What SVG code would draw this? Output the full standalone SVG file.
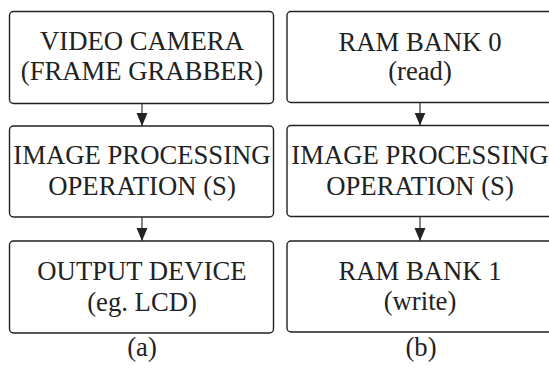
<svg xmlns="http://www.w3.org/2000/svg" width="549" height="370" viewBox="0 0 549 370">
<style>
.box{fill:#fff;stroke:#222;stroke-width:1.4}
.t{font-family:"Liberation Serif","DejaVu Serif",serif;font-size:26.7px;fill:#222;text-anchor:middle}
.conn{stroke:#333;stroke-width:1.2;fill:none}
</style>
<defs>
<marker id="ah" markerUnits="userSpaceOnUse" markerWidth="14" markerHeight="12" refX="13" refY="6" orient="auto" viewBox="0 0 14 12">
<path d="M0,0.5 L13,6 L0,11.5 Z" fill="#222"/>
</marker>
</defs>
<rect width="549" height="370" fill="#fff"/>
<g id="a1"><rect class="box" x="9.5" y="11.5" width="264" height="92" rx="4"/><text class="t" font-family="Liberation Serif, serif" x="142" y="49.5">VIDEO CAMERA</text><text class="t" font-family="Liberation Serif, serif" x="142" y="80">(FRAME GRABBER)</text></g>
<g id="a2"><rect class="box" x="9.5" y="126" width="264" height="91" rx="4"/><text class="t" font-family="Liberation Serif, serif" x="142" y="163.5">IMAGE PROCESSING</text><text class="t" font-family="Liberation Serif, serif" x="142" y="194.5">OPERATION (S)</text></g>
<g id="a3"><rect class="box" x="9.5" y="241" width="264" height="92" rx="4"/><text class="t" font-family="Liberation Serif, serif" x="142" y="280">OUTPUT DEVICE</text><text class="t" font-family="Liberation Serif, serif" x="142" y="310.5">(eg. LCD)</text></g>
<g id="b1"><rect class="box" x="287" y="11.5" width="266" height="91" rx="4"/><text class="t" font-family="Liberation Serif, serif" x="420" y="51">RAM BANK 0</text><text class="t" font-family="Liberation Serif, serif" x="420" y="80">(read)</text></g>
<g id="b2"><rect class="box" x="287" y="125.5" width="266" height="91" rx="4"/><text class="t" font-family="Liberation Serif, serif" x="420" y="163.5">IMAGE PROCESSING</text><text class="t" font-family="Liberation Serif, serif" x="420" y="194.5">OPERATION (S)</text></g>
<g id="b3"><rect class="box" x="287" y="241" width="266" height="91" rx="4"/><text class="t" font-family="Liberation Serif, serif" x="420" y="280">RAM BANK 1</text><text class="t" font-family="Liberation Serif, serif" x="420" y="310">(write)</text></g>
<g id="captions"><text class="t" font-family="Liberation Serif, serif" x="142" y="356">(a)</text><text class="t" font-family="Liberation Serif, serif" x="421" y="356">(b)</text></g>
<g id="connectors">
<line class="conn" x1="142" y1="104" x2="142" y2="126" marker-end="url(#ah)"/>
<line class="conn" x1="142" y1="217" x2="142" y2="241" marker-end="url(#ah)"/>
<line class="conn" x1="420" y1="102.5" x2="420" y2="125.5" marker-end="url(#ah)"/>
<line class="conn" x1="420" y1="216.5" x2="420" y2="241" marker-end="url(#ah)"/>
</g>
</svg>
